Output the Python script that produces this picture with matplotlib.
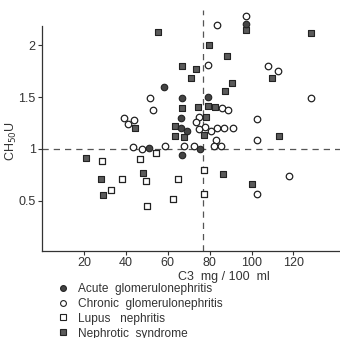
import matplotlib
matplotlib.use("Agg")
import matplotlib.pyplot as plt
from matplotlib.lines import Line2D

plt.rcParams['font.family'] = ['Liberation Sans Narrow', 'Liberation Sans', 'DejaVu Sans']

# ---- data ----
acute_x = [58.2, 51.1, 97.4, 66.8, 79.2, 66.3, 66.3, 69.2, 75.4, 66.8]
acute_y = [1.60, 1.01, 2.21, 1.49, 1.50, 1.30, 1.20, 1.17, 1.00, 0.94]

chronic_x = [39.1, 41.1, 43.9, 51.6, 53.0, 43.4, 47.7, 58.7, 83.5, 97.4,
             79.2, 107.9, 112.6, 128.4, 85.9, 88.8, 74.9, 102.6, 73.5, 77.8,
             83.5, 86.9, 91.2, 74.9, 80.7, 83.1, 102.6, 67.8, 72.5, 82.1,
             85.4, 117.9, 102.6]
chronic_y = [1.30, 1.24, 1.28, 1.49, 1.38, 1.02, 1.00, 1.03, 2.20, 2.28,
             1.81, 1.80, 1.75, 1.49, 1.39, 1.38, 1.31, 1.29, 1.26, 1.21,
             1.20, 1.20, 1.20, 1.19, 1.17, 1.09, 1.09, 1.03, 1.03, 1.03,
             1.03, 0.74, 0.56]

lupus_x = [28.6, 32.9, 38.2, 46.8, 49.6, 50.1, 54.4, 64.9, 62.5, 77.3, 77.3]
lupus_y = [0.88, 0.60, 0.71, 0.90, 0.69, 0.45, 0.96, 0.71, 0.52, 0.80, 0.56]

nephrotic_x = [55.4, 44.4, 79.7, 88.3, 97.4, 128.4, 66.8, 73.5, 71.1, 90.7,
               109.8, 87.4, 66.8, 74.5, 79.2, 82.6, 78.3, 63.5, 63.5, 67.8,
               77.3, 113.1, 86.4, 100.2, 21.0, 28.2, 29.1, 48.2]
nephrotic_y = [2.13, 1.20, 2.00, 1.90, 2.15, 2.12, 1.80, 1.77, 1.68, 1.64,
               1.68, 1.56, 1.39, 1.40, 1.41, 1.40, 1.31, 1.22, 1.12, 1.11,
               1.13, 1.12, 0.76, 0.66, 0.91, 0.71, 0.55, 0.77]

labels = ["Acute  glomerulonephritis", "Chronic  glomerulonephritis",
          "Lupus   nephritis", "Nephrotic  syndrome"]
xticks = [20, 40, 60, 80, 100, 120]
yticks = [0.5, 1, 1.5, 2]
ytick_labels = ["0.5", "1", "1.5", "2"]
x_cut = 76.8
y_cut = 1.0

fig = plt.figure(figsize=(3.40, 3.38), dpi=100)
ax = fig.add_axes([0.1235, 0.258, 0.8765, 0.712])
ax.set_xlim(0, 142.2)
ax.set_ylim(0.015, 2.34)

ink = '#333333'
ax.axhline(y_cut, color='#555555', lw=0.9, ls=(0, (5, 4)), zorder=1)
ax.axvline(x_cut, color='#555555', lw=0.9, ls=(0, (5, 4)), zorder=1)

ms = 22
ax.scatter(nephrotic_x, nephrotic_y, s=ms, marker='s', facecolor='#5a5a5a',
           edgecolor='#222222', linewidth=0.8, zorder=3, clip_on=False)
ax.scatter(lupus_x, lupus_y, s=ms, marker='s', facecolor='white',
           edgecolor='#222222', linewidth=0.9, zorder=3, clip_on=False)
ax.scatter(chronic_x, chronic_y, s=ms, marker='o', facecolor='white',
           edgecolor='#222222', linewidth=0.9, zorder=4, clip_on=False)
ax.scatter(acute_x, acute_y, s=ms, marker='o', facecolor='#444444',
           edgecolor='#222222', linewidth=0.8, zorder=5, clip_on=False)

for s in ['top', 'right']:
    ax.spines[s].set_visible(False)
ax.spines['left'].set_bounds(0.015, 2.19)
for s in ['left', 'bottom']:
    ax.spines[s].set_color(ink)
    ax.spines[s].set_linewidth(0.9)

ax.set_xticks(xticks)
ax.set_yticks(yticks)
ax.set_yticklabels(ytick_labels)
ax.tick_params(axis='both', length=3, width=0.8, color=ink, labelsize=9,
               labelcolor=ink, pad=1.5)

ax.text(0.611, -0.108, "C3  mg / 100  ml", transform=ax.transAxes,
        ha='center', va='center', fontsize=9, color=ink)
fig.text(0.035, 0.583, r"CH$_{50}$U", rotation=90, ha='center', va='center',
         fontsize=9, color=ink)

handles = [
    Line2D([], [], ls='none', marker='o', ms=4.2, mfc='#444444', mec='#222222', mew=0.8),
    Line2D([], [], ls='none', marker='o', ms=4.2, mfc='white', mec='#222222', mew=0.8),
    Line2D([], [], ls='none', marker='s', ms=4.2, mfc='white', mec='#222222', mew=0.8),
    Line2D([], [], ls='none', marker='s', ms=4.2, mfc='#5a5a5a', mec='#222222', mew=0.8),
]
fig.legend(handles, labels, loc='upper left', bbox_to_anchor=(0.167, 0.163),
           frameon=False, fontsize=8.6, handlelength=1.0, handletextpad=0.8,
           labelspacing=0.24, borderpad=0, borderaxespad=0, labelcolor=ink)

fig.savefig("out.png", dpi=100)
